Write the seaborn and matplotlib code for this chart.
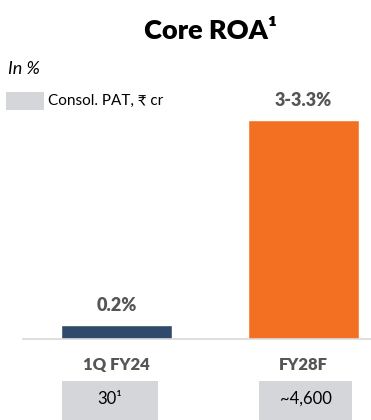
import matplotlib
matplotlib.use("Agg")
import matplotlib.pyplot as plt
import matplotlib.patches as mpatches
import seaborn as sns
import pandas as pd

# data
periods = ["1Q FY24", "FY28F"]
roa_plot = [0.2, 3.15]           # bar heights (FY28F drawn at mid of the 3-3.3% range)
roa_labels = ["0.2%", "3-3.3%"]
pat_labels = ["30\u00b9", "~4,600"]
bar_colors = ["#2f4a6d", "#f37022"]

sns.set_style("white")
plt.rcParams["font.family"] = ["Lato", "DejaVu Sans"]

W, H = 371, 420
fig = plt.figure(figsize=(W / 100, H / 100), dpi=100)

# axes: baseline at y=339px, left category boundary at x=23px, 187px per category
px_per_unit = 69.5
ymax = 3.6
ax_h = ymax * px_per_unit
ax = fig.add_axes([23 / W, (H - 339) / H, 374 / W, ax_h / H])

df = pd.DataFrame({"period": periods, "roa": roa_plot})
sns.barplot(data=df, x="period", y="roa", hue="period", palette=bar_colors,
            width=0.59, legend=False, saturation=1, ax=ax)
ax.set_xlim(-0.5, 1.5)
ax.set_ylim(0, ymax)
ax.set_xlabel("")
ax.set_ylabel("")
ax.set_yticks([])
sns.despine(ax=ax, left=True, top=True, right=True)
ax.spines["bottom"].set_color("#d9d9d9")
ax.spines["bottom"].set_linewidth(1.2)

ax.set_xticks([0, 1])
ax.set_xticklabels(periods, fontsize=12, fontweight="heavy", color="#555555")
ax.tick_params(axis="x", which="major", length=0, pad=13)
ax.set_xticks([-0.5, 0.5, 1.5], minor=True)
ax.tick_params(axis="x", which="minor", length=5, width=1.2, color="#d9d9d9", direction="out")

for i, (v, lab) in enumerate(zip(roa_plot, roa_labels)):
    ax.annotate(lab, (i, v), xytext=(0, 8), textcoords="offset points",
                ha="center", va="bottom", fontsize=13, fontweight="heavy", color="#555555")

# title and notes
fig.text(210 / W, 1 - 31 / H, "Core ROA\u00b9", ha="center", va="center",
         fontsize=19.5, fontweight="heavy", color="black")
fig.text(8 / W, 1 - 69 / H, "In %", ha="left", va="center", fontsize=13,
         fontstyle="italic", color="black")
fig.patches.append(mpatches.Rectangle((6 / W, 1 - 110 / H), 38 / W, 18 / H,
                                      transform=fig.transFigure, color="#d4d6d9", lw=0))
fig.text(48 / W, 1 - 101 / H, "Consol. PAT, \u20b9 cr", ha="left", va="center",
         fontsize=11, color="black")

# PAT boxes under the categories
boxes = [(62, 96), (259, 93)]
for (bx, bw), lab in zip(boxes, pat_labels):
    fig.patches.append(mpatches.Rectangle((bx / W, 0), bw / W, 39 / H,
                                          transform=fig.transFigure, color="#d4d6d9", lw=0))
    fig.text((bx + bw / 2) / W, 1 - 399 / H, lab, ha="center", va="center",
             fontsize=12, color="black")

fig.savefig("out.png", dpi=100)
